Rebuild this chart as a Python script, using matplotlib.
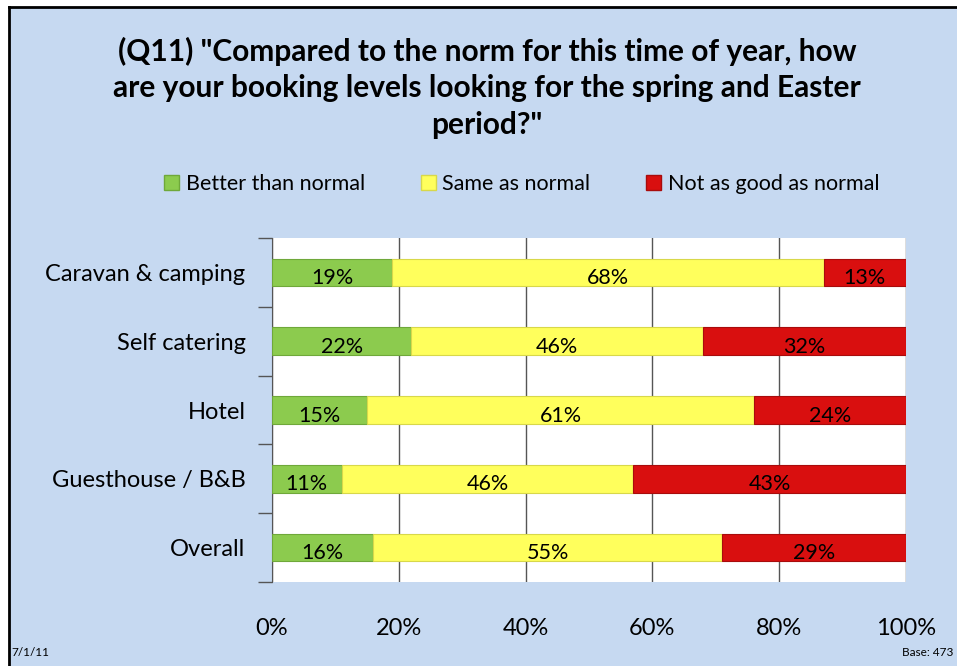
import matplotlib.pyplot as plt
import matplotlib.patches as mpatches
from matplotlib.lines import Line2D
import numpy as np

plt.rcParams['font.family'] = ['Lato', 'DejaVu Sans']

# data
categories = ['Caravan & camping', 'Self catering', 'Hotel', 'Guesthouse / B&B', 'Overall']
better = [19, 22, 15, 11, 16]
same = [68, 46, 61, 46, 55]
worse = [13, 32, 24, 43, 29]
series_names = ['Better than normal', 'Same as normal', 'Not as good as normal']
colors = ['#8CCB4E', '#FFFF5C', '#D90F0F']
edge_colors = ['#6FA83A', '#D8D84A', '#A80C0C']
xtick_labels = ['0%', '20%', '40%', '60%', '80%', '100%']

bg = '#C6D9F1'
W, H = 957, 666
fig = plt.figure(figsize=(9.57, 6.66), dpi=100, facecolor='white')

# panel background with left/top border
x0, y0 = 9 / W, 7 / H
fig.patches.append(mpatches.Rectangle((x0, 0), 1 - x0, 1 - y0, transform=fig.transFigure,
                                      facecolor=bg, edgecolor='none', zorder=-10))
fig.lines.append(Line2D([x0, x0], [0, 1 - y0], transform=fig.transFigure, color='black', linewidth=2, zorder=-5))
fig.lines.append(Line2D([x0, 1], [1 - y0, 1 - y0], transform=fig.transFigure, color='black', linewidth=2, zorder=-5))

ax = fig.add_axes([0.2842, 0.1261, 0.6625, 0.5165])
ax.set_zorder(2)
ax.set_facecolor('white')

y = np.arange(len(categories))
left = np.zeros(len(categories))
for vals, c, ec, name in zip([better, same, worse], colors, edge_colors, series_names):
    vals = np.array(vals, dtype=float)
    ax.barh(y, vals, left=left, height=0.4, color=c, edgecolor=ec, linewidth=0.8, label=name, zorder=3)
    for yi, l, v in zip(y, left, vals):
        ax.text(l + v / 2, yi + 0.08, '{:d}%'.format(int(v)), ha='center', va='center',
                fontsize=15.5, color='black', zorder=4)
    left += vals

ax.set_xlim(0, 100)
ax.set_ylim(len(categories) - 0.5, -0.5)
ax.set_xticks(np.arange(0, 101, 20))
ax.set_xticklabels(xtick_labels, fontsize=17)
ax.tick_params(axis='x', length=0, pad=26)
ax.xaxis.grid(True, color='#555555', linewidth=1, zorder=0)

ax.set_yticks(y)
ax.set_yticklabels(categories, fontsize=17)
ax.tick_params(axis='y', which='major', length=0, pad=19)
ax.set_yticks(np.arange(-0.5, len(categories)), minor=True)
ax.tick_params(axis='y', which='minor', length=10, color='#555555', width=1)

for s in ['top', 'right', 'bottom']:
    ax.spines[s].set_visible(False)
ax.spines['left'].set_color('#555555')

# title
fig.text(0.509, 0.868, '(Q11) "Compared to the norm for this time of year, how\n'
         'are your booking levels looking for the spring and Easter\nperiod?"',
         ha='center', va='center', fontsize=21.5, fontweight='bold', linespacing=1.38)

# legend
handles = [mpatches.Patch(facecolor=c, edgecolor=ec) for c, ec in zip(colors, edge_colors)]
fig.legend(handles, series_names, loc='center', bbox_to_anchor=(0.545, 0.724), ncol=3,
           frameon=False, fontsize=15.5, handlelength=0.7, handleheight=0.7,
           handletextpad=0.3, columnspacing=2.6)

fig.text(0.012, 0.021, '7/1/11', fontsize=8.5, ha='left', va='center')
fig.text(0.996, 0.021, 'Base: 473', fontsize=8.5, ha='right', va='center')

fig.savefig('out.png', dpi=100, facecolor='white')
